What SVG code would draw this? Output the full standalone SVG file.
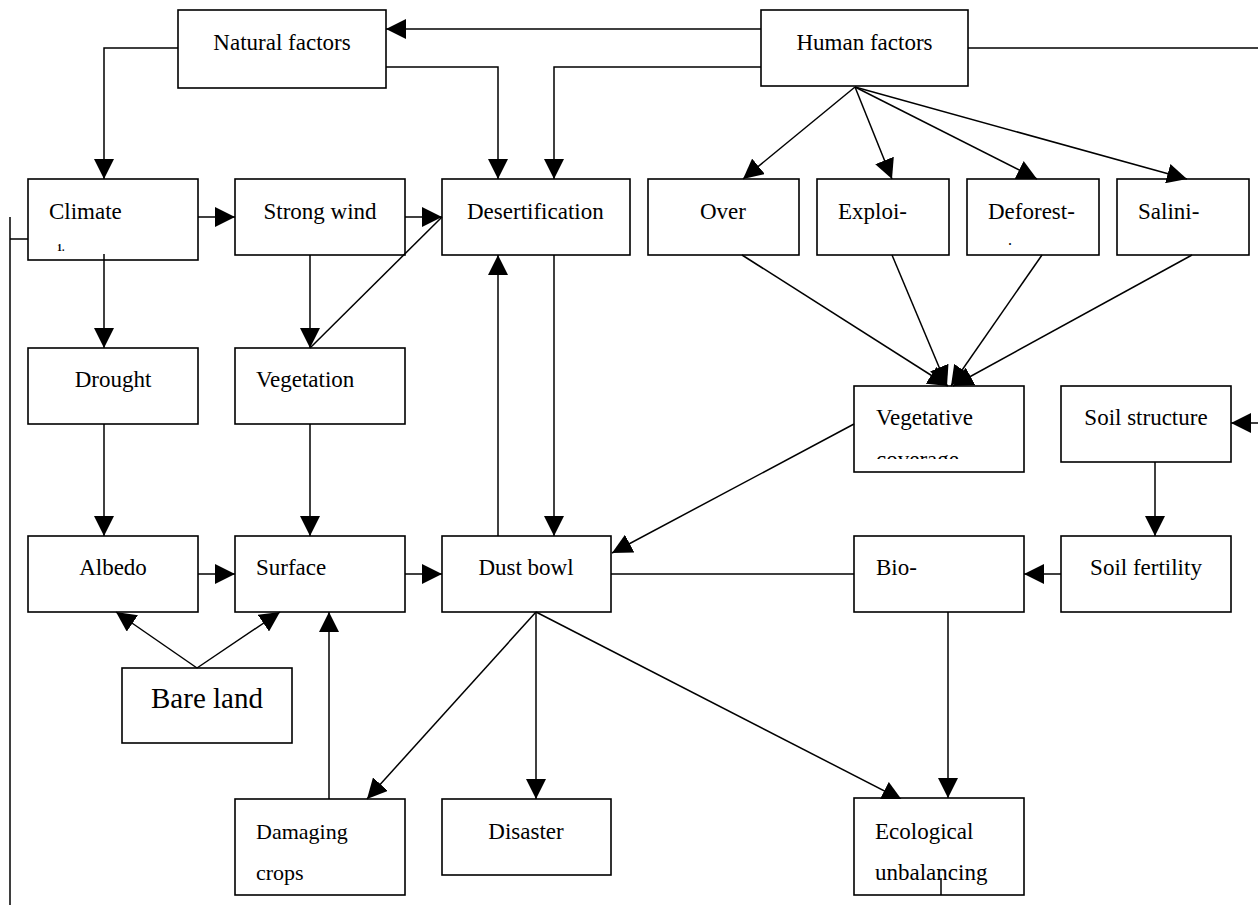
<svg xmlns="http://www.w3.org/2000/svg" width="1258" height="906" viewBox="0 0 1258 906">
<style>
  .box { fill: #ffffff; stroke: #000000; stroke-width: 1.6; }
  .t { font-family: "Liberation Serif", "Times New Roman", serif; font-size: 23px; fill: #000000; }
  .c { text-anchor: middle; }
  .g { font-size: 22px; }
  .big { font-size: 29px; }
  .ln { fill: none; stroke: #000000; stroke-width: 1.5; }
  .ar { marker-end: url(#ah); }
</style>
<defs>
  <marker id="ah" markerWidth="20" markerHeight="20" refX="20" refY="10" orient="auto" markerUnits="userSpaceOnUse">
    <path d="M0,0 L20,10 L0,20 z" fill="#000000"/>
  </marker>
  <clipPath id="clipVC"><rect x="854" y="440" width="170" height="19"/></clipPath>
  <clipPath id="clipEco"><rect x="0" y="0" width="1258" height="799"/></clipPath>
</defs>
<rect x="0" y="0" width="1258" height="906" fill="#ffffff"/>

<g id="node-natural"><rect class="box" x="178" y="10" width="208" height="78"/><text class="t c" x="282" y="50">Natural factors</text></g>
<g id="node-human"><rect class="box" x="761" y="10" width="207" height="76"/><text class="t c" x="864.5" y="50">Human factors</text></g>
<g id="node-climate"><rect class="box" x="28" y="179" width="170" height="81"/><text class="t" x="49" y="219">Climate</text><text class="t" x="57" y="251" style="font-size:10px;font-weight:bold">1.</text></g>
<g id="node-strongwind"><rect class="box" x="235" y="179" width="170" height="76"/><text class="t c" x="320" y="219">Strong wind</text></g>
<g id="node-desertification"><rect class="box" x="442" y="179" width="188" height="76"/><text class="t" x="467" y="219">Desertification</text></g>
<g id="node-over"><rect class="box" x="648" y="179" width="151" height="76"/><text class="t c" x="723" y="219">Over</text></g>
<g id="node-exploi"><rect class="box" x="817" y="179" width="132" height="76"/><text class="t" x="838" y="219">Exploi-</text></g>
<g id="node-deforest"><rect class="box" x="967" y="179" width="132" height="76"/><text class="t" x="988" y="219">Deforest-</text><text class="t" x="1008" y="245" style="font-size:16px">.</text></g>
<g id="node-salini"><rect class="box" x="1117" y="179" width="132" height="76"/><text class="t" x="1138" y="219">Salini-</text></g>
<g id="node-drought"><rect class="box" x="28" y="348" width="170" height="76"/><text class="t c" x="113" y="387">Drought</text></g>
<g id="node-vegetation"><rect class="box" x="235" y="348" width="170" height="76"/><text class="t" x="256" y="387">Vegetation</text></g>
<g id="node-vegcoverage"><rect class="box" x="854" y="386" width="170" height="86"/><text class="t" x="876" y="467" clip-path="url(#clipVC)">coverage</text><text class="t" x="876" y="425">Vegetative</text></g>
<g id="node-soilstructure"><rect class="box" x="1061" y="386" width="170" height="76"/><text class="t c" x="1146" y="425">Soil structure</text></g>
<g id="node-albedo"><rect class="box" x="28" y="536" width="170" height="76"/><text class="t c" x="113" y="575">Albedo</text></g>
<g id="node-surface"><rect class="box" x="235" y="536" width="170" height="76"/><text class="t" x="256" y="575">Surface</text></g>
<g id="node-dustbowl"><rect class="box" x="442" y="536" width="169" height="76"/><text class="t c" x="526" y="575">Dust bowl</text></g>
<g id="node-bio"><rect class="box" x="854" y="536" width="170" height="76"/><text class="t" x="876" y="575">Bio-</text></g>
<g id="node-soilfertility"><rect class="box" x="1061" y="536" width="170" height="76"/><text class="t c" x="1146" y="575">Soil fertility</text></g>
<g id="node-bareland"><rect class="box" x="122" y="668" width="170" height="75"/><text class="t c big" x="207" y="708">Bare land</text></g>
<g id="node-damaging"><rect class="box" x="235" y="799" width="170" height="96"/><text class="t g" x="256" y="839">Damaging</text><text class="t g" x="256" y="880">crops</text></g>
<g id="node-disaster"><rect class="box" x="442" y="799" width="169" height="76"/><text class="t c" x="526" y="839">Disaster</text></g>
<g id="node-ecological"><rect class="box" x="854" y="798" width="170" height="97"/><text class="t" x="875" y="839">Ecological</text><text class="t" x="875" y="880">unbalancing</text></g>

<g id="connectors">
  <path class="ln ar" d="M761,29 H386"/>
  <path class="ln ar" d="M178,48 H104 V179"/>
  <path class="ln ar" d="M386,67 H498 V179"/>
  <path class="ln ar" d="M761,67 H554 V179"/>
  <path class="ln" d="M968,48 H1258"/>
  <path class="ln ar" d="M855,87 L743,179"/>
  <path class="ln ar" d="M855,87 L892,179"/>
  <path class="ln ar" d="M855,87 L1037,179"/>
  <path class="ln ar" d="M855,87 L1187,179"/>
  <path class="ln ar" d="M198,217 H235"/>
  <path class="ln ar" d="M405,217 H442"/>
  <path class="ln" d="M310,348 L442,217"/>
  <path class="ln ar" d="M104,254 V348"/>
  <path class="ln ar" d="M310,255 V348"/>
  <path class="ln ar" d="M104,424 V536"/>
  <path class="ln ar" d="M310,424 V536"/>
  <path class="ln ar" d="M198,574 H235"/>
  <path class="ln ar" d="M405,574 H442"/>
  <path class="ln ar" d="M498,536 V255"/>
  <path class="ln ar" d="M554,255 V536"/>
  <path class="ln ar" d="M854,424 L612,553"/>
  <path class="ln ar" d="M742,255 L948,386"/>
  <path class="ln ar" d="M892,255 L947,386"/>
  <path class="ln ar" d="M1042,255 L951,386"/>
  <path class="ln ar" d="M1192,255 L953,386"/>
  <path class="ln ar" d="M1258,423 H1231"/>
  <path class="ln ar" d="M1155,462 V536"/>
  <path class="ln ar" d="M1061,574 H1024"/>
  <path class="ln" d="M611,574 H854"/>
  <path class="ln ar" d="M948,612 V798"/>
  <path class="ln ar" d="M197,668 L116,612"/>
  <path class="ln ar" d="M197,668 L280,612"/>
  <path class="ln ar" d="M329,799 V612"/>
  <path class="ln ar" d="M536,612 L367,799"/>
  <path class="ln ar" d="M536,612 V799"/>
  <path class="ln ar" d="M536,612 L902,800" clip-path="url(#clipEco)"/>
  <path class="ln" d="M28,239 H10 M10,217 V905"/>
  <path class="ln" d="M941,878 V895"/>
</g>
</svg>
